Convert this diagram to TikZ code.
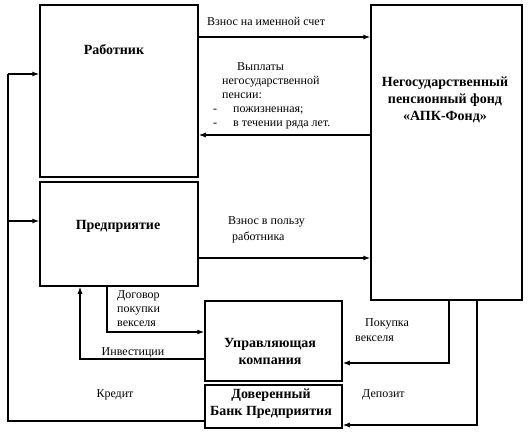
\documentclass[tikz,border=0pt]{standalone}
\usepackage{fontspec}
\setmainfont{Liberation Serif}
\usetikzlibrary{positioning, arrows.meta}

\begin{document}
\begin{tikzpicture}[x=1pt, y=-1pt,
    font=\fontsize{12}{14}\selectfont,
    box/.style={draw, line width=1.5pt, inner sep=0pt},
    title/.style={font=\fontsize{14}{17}\selectfont\bfseries, align=center, inner sep=0pt},
    wire/.style={line width=1.2pt},
    arr/.style={wire, -{Latex[length=7pt, width=5pt]}},
    lbl/.style={inner sep=0pt, align=left, anchor=base west}]

  \useasboundingbox (0,0) rectangle (532,435);

  % Participants of the scheme.
  \node[box, minimum width=158pt, minimum height=172pt] (rab) at (119,91) {};
  \node[box, minimum width=158pt, minimum height=104pt] (pred) at (119,234) {};
  \node[box, minimum width=151pt, minimum height=295pt] (npf) at (446.5,152.5) {};
  \node[box, minimum width=137pt, minimum height=80pt] (uk) at (273.5,341) {};
  \node[box, minimum width=137pt, minimum height=43pt] (bank) at (273.5,406.5) {};

  \node[title] (rabT) at (114,50) {Работник};
  \node[title] (predT) at (118,226) {Предприятие};
  \node[title] (npfT) at (445,100) {Негосударственный\\пенсионный фонд\\«АПК-Фонд»};
  \node[title] (ukT) at (270,351) {Управляющая\\компания};
  \node[title] (bankT) at (271,404) {Доверенный\\Банк Предприятия};

  % Money flows to and from the fund (multi-line labels sit on their last line).
  \coordinate (c1) at (0,37);
  \coordinate (c2) at (0,135);
  \coordinate (c3) at (0,258);
  \draw[arr] (c1 -| rab.east) -- (c1 -| npf.west);
  \draw[arr] (c2 -| npf.west) -- (c2 -| rab.east);
  \draw[arr] (c3 -| pred.east) -- (c3 -| npf.west);

  \node[lbl] (vznos) at (207,26) {Взнос на именной счет};
  \node[lbl] (vypl) at (213,127) {\hspace*{24pt}Выплаты\\
    \hspace*{9pt}негосударственной\\
    \hspace*{9pt}пенсии:\\
    \makebox[20pt][l]{-}пожизненная;\\
    \makebox[20pt][l]{-}в течении ряда лет.};
  \node[lbl] (vznos2) at (228,241) {Взнос в пользу\\[2pt]\hspace*{4pt}работника};

  % Credit loop on the left.
  \coordinate (kr1) at (8,74);
  \coordinate (kr2) at (8,221);
  \coordinate (kr3) at (8,421);
  \draw[wire] (kr3 -| bank.west) -- (kr3) -- (kr1);
  \draw[arr] (kr1) -- (kr1 -| rab.west);
  \draw[arr] (kr2) -- (kr2 -| pred.west);
  \node[anchor=base] (kred) at (115,397) {Кредит};

  % Bills and investments.
  \coordinate (dog) at (107,332);
  \coordinate (inv) at (80,359);
  \draw[arr] (dog |- pred.south) -- (dog) -- (dog -| uk.west);
  \draw[arr] (inv -| uk.west) -- (inv) -- (inv |- pred.south);
  \node[lbl] (dogT) at (117,326) {Договор\\покупки\\векселя};
  \node[anchor=base] (invT) at (133,355) {Инвестиции};

  \coordinate (pok) at (449,363);
  \coordinate (dep) at (477,425);
  \draw[arr] (pok |- npf.south) -- (pok) -- (pok -| uk.east);
  \draw[arr] (dep |- npf.south) -- (dep) -- (dep -| bank.east);
  \node[lbl] (pokT) at (355,341) {\hspace*{10pt}Покупка\\[1pt]векселя};
  \node[lbl] (depT) at (362,397) {Депозит};
\end{tikzpicture}
\end{document}
